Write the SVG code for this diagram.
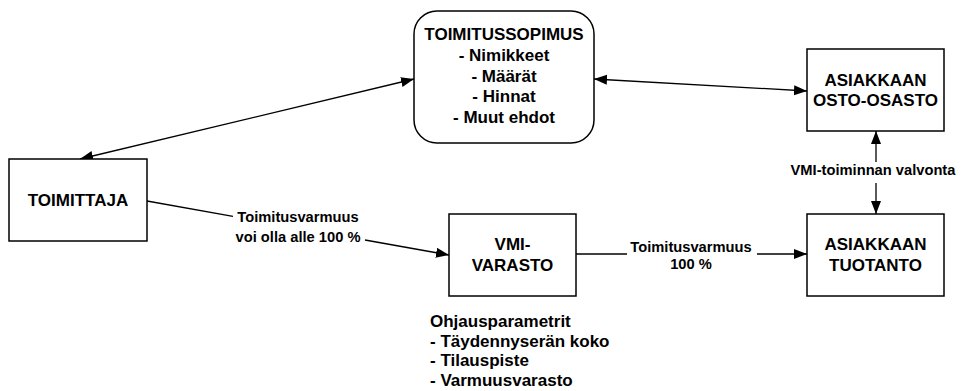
<svg xmlns="http://www.w3.org/2000/svg" width="962" height="391" viewBox="0 0 962 391">
  <style>
    .box { fill: #ffffff; stroke: #000000; stroke-width: 1.5; }
    .link { fill: none; stroke: #000000; stroke-width: 1.3; }
    text { font-family: "Liberation Sans", Arial, sans-serif; font-weight: bold; fill: #000000; }
    .node { font-size: 17px; text-anchor: middle; }
    .lbl { font-size: 14.7px; text-anchor: middle; }
    .list { font-size: 17px; }
  </style>
  <defs>
    <marker id="arrow" markerUnits="userSpaceOnUse" markerWidth="14" markerHeight="11" refX="13" refY="5" orient="auto-start-reverse">
      <path d="M0,0 L13,5 L0,10 z" fill="#000000"/>
    </marker>
  </defs>
  <rect width="962" height="391" fill="#ffffff"/>

  <!-- connectors -->
  <g id="connectors">
    <line class="link" x1="80" y1="159" x2="414" y2="79" marker-start="url(#arrow)" marker-end="url(#arrow)"/>
    <line class="link" x1="594" y1="79" x2="807" y2="91" marker-start="url(#arrow)" marker-end="url(#arrow)"/>
    <line class="link" x1="876" y1="162" x2="876" y2="131" marker-end="url(#arrow)"/>
    <line class="link" x1="876" y1="183" x2="876" y2="214" marker-end="url(#arrow)"/>
    <line class="link" x1="147" y1="201" x2="233" y2="216.4"/>
    <line class="link" x1="365" y1="240" x2="449" y2="255" marker-end="url(#arrow)"/>
    <line class="link" x1="576" y1="254" x2="627" y2="254"/>
    <line class="link" x1="757" y1="254" x2="807" y2="254" marker-end="url(#arrow)"/>
    <text class="lbl" x="298" y="222">Toimitusvarmuus</text>
    <text class="lbl" x="298" y="242">voi olla alle 100 %</text>
    <text class="lbl" x="691" y="252">Toimitusvarmuus</text>
    <text class="lbl" x="691" y="269">100 %</text>
    <text class="lbl" x="873" y="175">VMI-toiminnan valvonta</text>
  </g>

  <!-- nodes -->
  <g id="toimitussopimus">
    <rect class="box" x="414" y="11" width="180" height="132" rx="23" ry="23"/>
    <text class="node" x="504" y="40">TOIMITUSSOPIMUS</text>
    <text class="node" x="504" y="61">- Nimikkeet</text>
    <text class="node" x="504" y="82">- Määrät</text>
    <text class="node" x="504" y="102">- Hinnat</text>
    <text class="node" x="504" y="123">- Muut ehdot</text>
  </g>
  <g id="toimittaja">
    <rect class="box" x="9" y="159" width="138" height="82"/>
    <text class="node" x="78" y="206">TOIMITTAJA</text>
  </g>
  <g id="osto-osasto">
    <rect class="box" x="807" y="49" width="137" height="82"/>
    <text class="node" x="875.5" y="85.5">ASIAKKAAN</text>
    <text class="node" x="875.5" y="106">OSTO-OSASTO</text>
  </g>
  <g id="tuotanto">
    <rect class="box" x="807" y="214" width="137" height="82"/>
    <text class="node" x="875.5" y="250">ASIAKKAAN</text>
    <text class="node" x="875.5" y="270.5">TUOTANTO</text>
  </g>
  <g id="vmi-varasto">
    <rect class="box" x="449" y="214" width="127" height="82"/>
    <text class="node" x="512.5" y="249.5">VMI-</text>
    <text class="node" x="512.5" y="271">VARASTO</text>
  </g>
  <g id="ohjausparametrit">
    <text class="list" x="430" y="327">Ohjausparametrit</text>
    <text class="list" x="430" y="346.5">- Täydennyserän koko</text>
    <text class="list" x="430" y="366">- Tilauspiste</text>
    <text class="list" x="430" y="385.5">- Varmuusvarasto</text>
  </g>
</svg>
